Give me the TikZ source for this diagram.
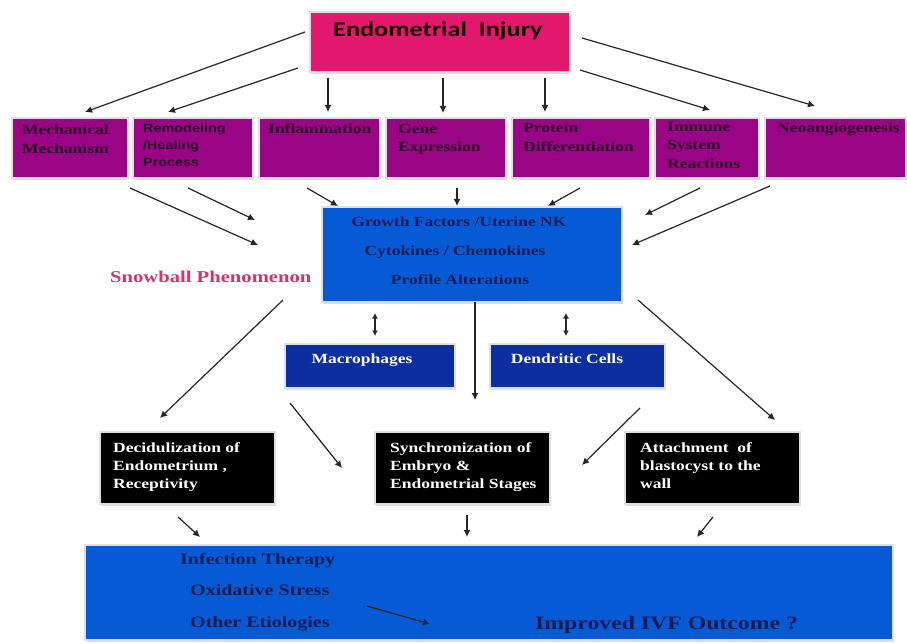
\documentclass[tikz,border=0pt]{standalone}
\usepackage{fontspec}
\setmainfont{Liberation Serif}
\newfontfamily\tnrwide[FakeStretch=1.25]{Liberation Serif}
\newfontfamily\ariwide[FakeStretch=1.2]{Liberation Sans}
\newfontfamily\calwide[FakeStretch=1.25]{Carlito}
\usetikzlibrary{arrows.meta,shadows}
\definecolor{injpink}{HTML}{E2186C}
\definecolor{purp}{HTML}{990585}
\definecolor{purptext}{HTML}{2A0526}
\definecolor{midblue}{HTML}{075AD6}
\definecolor{darkblue}{HTML}{0B2EA0}
\definecolor{navytext}{HTML}{111C55}
\definecolor{snow}{HTML}{D8326E}
\begin{document}
\begin{tikzpicture}[x=1pt,y=-1pt,
  arr/.style={-{Latex[length=7pt,width=7pt]},line width=1.2pt,black!85},
  darr/.style={{Latex[length=5.5pt,width=6pt]}-{Latex[length=5.5pt,width=6pt]},line width=1.2pt,black!85},
  box/.style={draw=black!12,line width=1.2pt,inner sep=0pt,outer sep=0pt,anchor=north west,
    drop shadow={shadow xshift=1pt,shadow yshift=-2pt,fill=black!22,opacity=0.6}},
  pbox/.style={box,fill=purp,minimum height=60},
  ptext/.style={anchor=north west,inner sep=0pt,align=left,text=purptext,font=\tnrwide\bfseries\fontsize{14}{18.5}\selectfont},
  btext/.style={anchor=base,inner sep=0pt,text=navytext,font=\tnrwide\bfseries\fontsize{14}{18}\selectfont},
  wtext/.style={anchor=north west,inner sep=0pt,align=left,text=white,font=\tnrwide\bfseries\fontsize{14}{18}\selectfont},
  ltext/.style={anchor=base west,inner sep=0pt,text=navytext,font=\tnrwide\bfseries\fontsize{16}{18}\selectfont}]
\useasboundingbox[fill=white] (0,0) rectangle (907,644);

% boxes
\node[box,fill=injpink,minimum width=260,minimum height=60] (inj) at (310,12) {};
\node[pbox,minimum width=116] (mech) at (12,118) {};
\node[pbox,minimum width=120] (remo) at (133,118) {};
\node[pbox,minimum width=121] (infl) at (259,118) {};
\node[pbox,minimum width=120] (gene) at (386,118) {};
\node[pbox,minimum width=138] (prot) at (512,118) {};
\node[pbox,minimum width=104] (immu) at (655,118) {};
\node[pbox,minimum width=141] (neo) at (765,118) {};
\node[box,fill=midblue,minimum width=300,minimum height=95] (cyto) at (322,207) {};
\node[box,fill=darkblue,minimum width=170,minimum height=44] (macro) at (285,344) {};
\node[box,fill=darkblue,minimum width=175,minimum height=44] (dend) at (490,344) {};
\node[box,fill=black,minimum width=175,minimum height=72] (deci) at (100,432) {};
\node[box,fill=black,minimum width=175,minimum height=72] (sync) at (375,432) {};
\node[box,fill=black,minimum width=175,minimum height=72] (att) at (625,432) {};
\node[box,fill=midblue,minimum width=808,minimum height=95] (ivf) at (85,545) {};

% texts
\node[anchor=base west,inner sep=0pt,text=black!90!red,font=\calwide\bfseries\fontsize{21}{24}\selectfont] (tinj) at (333,37) {Endometrial\ \ Injury};
\node[ptext] (tmech) at (22,125) {Mechanical\\Mechanism};
\node[ptext,font=\ariwide\bfseries\fontsize{12}{17}\selectfont] (tremo) at (143,124) {Remodeling\\/Healing\\Process};
\node[ptext] (tinfl) at (268,123) {Inflammation};
\node[ptext] (tgene) at (398,124) {Gene\\Expression};
\node[ptext] (tprot) at (523,123) {Protein\\Differentiation};
\node[ptext] (timmu) at (667,122) {Immune\\System\\Reactions};
\node[ptext] (tneo) at (777,123) {Neoangiogenesis};

\node[btext] (g1) at (459,227) {Growth Factors /Uterine NK};
\node[btext] (g2) at (455,255) {Cytokines / Chemokines};
\node[btext] (g3) at (460,284) {Profile Alterations};

\node[anchor=base west,inner sep=0pt,text=snow,font=\tnrwide\bfseries\fontsize{16.5}{18}\selectfont] (snowt) at (110,283) {Snowball Phenomenon};

\node[btext,text=white] (tmacro) at (362,363) {Macrophages};
\node[btext,text=white] (tdend) at (567,363) {Dendritic Cells};

\node[wtext] (tdeci) at (113,442) {Decidulization of\\Endometrium ,\\Receptivity};
\node[wtext] (tsync) at (390,442) {Synchronization of\\Embryo \&\\Endometrial Stages};
\node[wtext] (tatt) at (640,442) {Attachment\ \ of\\blastocyst to the\\wall};

\node[ltext] (l1) at (180,564) {Infection Therapy};
\node[ltext] (l2) at (190,595) {Oxidative Stress};
\node[ltext] (l3) at (190,627) {Other Etiologies};
\node[ltext,font=\tnrwide\bfseries\fontsize{19}{22}\selectfont] (l4) at (535,629) {Improved IVF Outcome ?};

% arrows from injury
\draw[arr] ([shift={(-5,20)}]inj.north west) -- ([shift={(73,-6)}]mech.north west);
\draw[arr] ([shift={(-12,56)}]inj.north west) -- ([shift={(35,-6)}]remo.north west);
\draw[arr] ([shift={(18,66)}]inj.north west) -- ([shift={(69,-6)}]infl.north west);
\draw[arr] ([shift={(133,66)}]inj.north west) -- ([shift={(57,-5)}]gene.north west);
\draw[arr] ([shift={(235,66)}]inj.north west) -- ([shift={(33,-6)}]prot.north west);
\draw[arr] ([shift={(270,58)}]inj.north west) -- ([shift={(55,-8)}]immu.north west);
\draw[arr] ([shift={(272,26)}]inj.north west) -- ([shift={(50,-12)}]neo.north west);

% arrows into central box
\draw[arr] ([shift={(118,70)}]mech.north west) -- ([shift={(-64,38)}]cyto.north west);
\draw[arr] ([shift={(55,70)}]remo.north west) -- ([shift={(-67,13)}]cyto.north west);
\draw[arr] ([shift={(48,70)}]infl.north west) -- ([shift={(16,-1)}]cyto.north west);
\draw[arr] ([shift={(71,70)}]gene.north west) -- ([shift={(135,-1)}]cyto.north west);
\draw[arr] ([shift={(68,70)}]prot.north west) -- ([shift={(226,-1)}]cyto.north west);
\draw[arr] ([shift={(45,70)}]immu.north west) -- ([shift={(323,8)}]cyto.north west);
\draw[arr] ([shift={(5,68)}]neo.north west) -- ([shift={(310,38)}]cyto.north west);

% from central box
\draw[darr] ([shift={(53,106)}]cyto.north west) -- ([shift={(90,-8)}]macro.north west);
\draw[darr] ([shift={(244,106)}]cyto.north west) -- ([shift={(76,-8)}]dend.north west);
\draw[arr] ([shift={(153,95)}]cyto.north west) -- ([shift={(100,-32)}]sync.north west);
\draw[arr] ([shift={(-39,93)}]cyto.north west) -- ([shift={(60,-14)}]deci.north west);
\draw[arr] ([shift={(316,93)}]cyto.north west) -- ([shift={(150,-12)}]att.north west);
\draw[arr] ([shift={(5,59)}]macro.north west) -- ([shift={(-33,36)}]sync.north west);
\draw[arr] ([shift={(150,64)}]dend.north west) -- ([shift={(207,33)}]sync.north west);

% into bottom box
\draw[arr] ([shift={(78,85)}]deci.north west) -- ([shift={(115,-8)}]ivf.north west);
\draw[arr] ([shift={(92,83)}]sync.north west) -- ([shift={(382,-8)}]ivf.north west);
\draw[arr] ([shift={(88,85)}]att.north west) -- ([shift={(612,-8)}]ivf.north west);
\draw[arr] ([shift={(282,61)}]ivf.north west) -- ([shift={(345,79)}]ivf.north west);
\end{tikzpicture}
\end{document}
